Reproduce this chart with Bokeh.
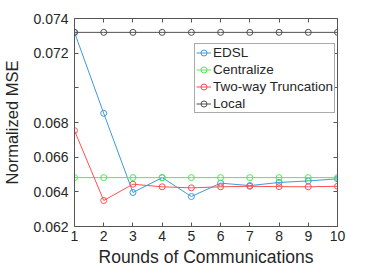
from bokeh.plotting import figure
from bokeh.models import Range1d, FixedTicker, LinearAxis, Legend, LegendItem
from bokeh.embed import file_html
from bokeh.resources import INLINE

rounds = [1, 2, 3, 4, 5, 6, 7, 8, 9, 10]
edsl = [0.0732, 0.06853, 0.06396, 0.06482, 0.06373, 0.0645, 0.06436, 0.06454, 0.06463, 0.06475]
centralize = [0.06482] * 10
two_way = [0.06753, 0.0635, 0.06444, 0.06429, 0.06423, 0.06429, 0.06432, 0.0643, 0.06429, 0.06432]
local = [0.0732] * 10

series = [("EDSL", edsl, "#3D9AD9"),
          ("Centralize", centralize, "#4CF04C"),
          ("Two-way Truncation", two_way, "#FF4F4F"),
          ("Local", local, "#505050")]

y_ticks = [0.062, 0.064, 0.066, 0.068, 0.072, 0.074]
y_minor = [0.070]

FONT = "Liberation Sans"
AX = "#555555"
TXT = "#262626"

p = figure(width=366, height=259, output_backend="svg", toolbar_location=None,
           x_range=Range1d(1, 10), y_range=Range1d(0.062, 0.074),
           frame_width=263, frame_height=208,
           min_border_left=72, min_border_top=18, min_border_right=30, min_border_bottom=40)
p.grid.visible = False
p.outline_line_color = AX
p.background_fill_color = "white"
p.border_fill_color = "white"

items = []
for name, ys, col in series:
    r1 = p.line(rounds, ys, line_color=col, line_width=1)
    r2 = p.scatter(rounds, ys, marker="circle", size=6, fill_color=None,
                   line_color=col, line_width=1)
    items.append(LegendItem(label=name, renderers=[r1, r2]))

xa = p.xaxis[0]
xa.ticker = FixedTicker(ticks=rounds)
xa.axis_label = "Rounds of Communications"
ya = p.yaxis[0]
ya.ticker = FixedTicker(ticks=y_ticks, minor_ticks=y_minor)
ya.axis_label = "Normalized MSE"

for ax in (xa, ya):
    ax.major_tick_in = 4
    ax.major_tick_out = 0
    ax.minor_tick_in = 4
    ax.minor_tick_out = 0
    ax.axis_line_color = AX
    ax.major_tick_line_color = AX
    ax.minor_tick_line_color = AX
    ax.major_label_text_font = FONT
    ax.major_label_text_font_size = "14px"
    ax.major_label_text_color = TXT
    ax.axis_label_text_font = FONT
    ax.axis_label_text_font_style = "normal"
    ax.axis_label_text_color = TXT
xa.major_label_standoff = 4
ya.major_label_standoff = 6
xa.axis_label_text_font_size = "17.5px"
ya.axis_label_text_font_size = "16.5px"
xa.axis_label_standoff = 3
ya.axis_label_standoff = 9
xa.minor_tick_line_color = None

ra = LinearAxis(ticker=FixedTicker(ticks=y_ticks, minor_ticks=y_minor))
ta = LinearAxis(ticker=FixedTicker(ticks=rounds))
for ax in (ra, ta):
    ax.major_tick_in = 4
    ax.major_tick_out = 0
    ax.minor_tick_in = 4
    ax.minor_tick_out = 0
    ax.axis_line_color = AX
    ax.major_tick_line_color = AX
    ax.minor_tick_line_color = AX
    ax.major_label_text_font_size = "0px"
    ax.major_label_standoff = 0
ta.minor_tick_line_color = None
p.add_layout(ra, "right")
p.add_layout(ta, "above")

legend = Legend(items=items, location=(120, 113))
legend.label_text_font = FONT
legend.label_text_font_size = "13.5px"
legend.label_text_color = TXT
legend.label_height = 15
legend.glyph_height = 15
legend.glyph_width = 15
legend.label_standoff = 2
legend.spacing = 2
legend.padding = 1
legend.margin = 0
legend.border_line_color = AX
legend.border_line_width = 1
legend.background_fill_alpha = 1
p.add_layout(legend, "center")

open("out.html", "w").write(file_html(p, INLINE))
